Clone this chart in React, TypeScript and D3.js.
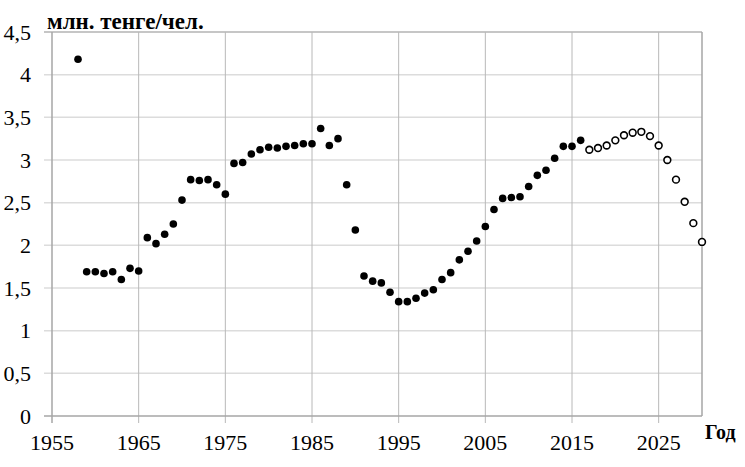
import React from 'react';
import * as d3 from 'd3';

// Фактические значения (закрашенные точки)
const factYears = [
  1958, 1959, 1960, 1961, 1962, 1963, 1964, 1965, 1966, 1967, 1968, 1969,
  1970, 1971, 1972, 1973, 1974, 1975, 1976, 1977, 1978, 1979, 1980, 1981,
  1982, 1983, 1984, 1985, 1986, 1987, 1988, 1989, 1990, 1991, 1992, 1993,
  1994, 1995, 1996, 1997, 1998, 1999, 2000, 2001, 2002, 2003, 2004, 2005,
  2006, 2007, 2008, 2009, 2010, 2011, 2012, 2013, 2014, 2015, 2016
];
const factValues = [
  4.18, 1.69, 1.69, 1.67, 1.69, 1.6, 1.73, 1.7, 2.09, 2.02, 2.13, 2.25,
  2.53, 2.77, 2.76, 2.77, 2.71, 2.6, 2.96, 2.97, 3.07, 3.12, 3.15, 3.14,
  3.16, 3.17, 3.19, 3.19, 3.37, 3.17, 3.25, 2.71, 2.18, 1.64, 1.58, 1.56,
  1.45, 1.34, 1.34, 1.38, 1.44, 1.48, 1.6, 1.68, 1.83, 1.93, 2.05, 2.22,
  2.42, 2.55, 2.56, 2.57, 2.69, 2.82, 2.88, 3.02, 3.16, 3.16, 3.23
];

// Прогноз (пустые кружки)
const forecastYears = [
  2017, 2018, 2019, 2020, 2021, 2022, 2023, 2024, 2025, 2026, 2027, 2028,
  2029, 2030
];
const forecastValues = [
  3.12, 3.14, 3.17, 3.23, 3.29, 3.32, 3.33, 3.28, 3.17, 3.0, 2.77, 2.51,
  2.26, 2.04
];

const xTicks = [1955, 1965, 1975, 1985, 1995, 2005, 2015, 2025];
const yTicks = [0, 0.5, 1, 1.5, 2, 2.5, 3, 3.5, 4, 4.5];

const yTitle = 'млн. тенге/чел.';
const xTitle = 'Год';

const width = 745;
const height = 467;
const left = 52;
const right = 702;
const top = 32;
const bottom = 416;
const font = 'Liberation Serif';

function App() {
  const x = d3.scaleLinear().domain([1955, 2030]).range([left, right]);
  const y = d3.scaleLinear().domain([0, 4.5]).range([bottom, top]);

  const fact = factYears.map((yr, i) => ({ yr, v: factValues[i] }));
  const forecast = forecastYears.map((yr, i) => ({ yr, v: forecastValues[i] }));

  return (
    <svg width={width} height={height} style={{ position: 'absolute', left: 0, top: 0 }}>
      {/* horizontal grid with outer ticks */}
      {yTicks.filter(d => d > 0).map(d => (
        <line key={'h' + d} x1={left - 8} x2={right} y1={y(d)} y2={y(d)}
          stroke={d === 4.5 ? '#b3b3b3' : '#dcdcdc'} strokeWidth={1.5} />
      ))}
      {/* vertical grid */}
      {xTicks.filter(d => d > 1955).map(d => (
        <line key={'v' + d} x1={x(d)} x2={x(d)} y1={top} y2={bottom + 7}
          stroke="#b8b8b8" strokeWidth={1} />
      ))}
      {/* frame */}
      <line x1={left} x2={left} y1={top} y2={bottom + 7} stroke="#a6a6a6" strokeWidth={1.5} />
      <line x1={left - 8} x2={right} y1={bottom} y2={bottom} stroke="#a6a6a6" strokeWidth={1.5} />
      <line x1={right} x2={right} y1={top} y2={bottom} stroke="#a6a6a6" strokeWidth={1.5} />

      {/* y tick labels */}
      {yTicks.map(d => (
        <text key={'yl' + d} x={31} y={y(d)} dy="0.35em" textAnchor="end"
          fontFamily={font} fontSize={22}>
          {String(d).replace('.', ',')}
        </text>
      ))}
      {/* x tick labels */}
      {xTicks.map(d => (
        <text key={'xl' + d} x={x(d)} y={450} textAnchor="middle"
          fontFamily={font} fontSize={22}>
          {d}
        </text>
      ))}

      {/* axis titles */}
      <text x={47} y={29} fontFamily={font} fontSize={23} fontWeight="bold">{yTitle}</text>
      <text x={705} y={439} fontFamily={font} fontSize={20} fontWeight="bold">{xTitle}</text>

      {/* actual */}
      {fact.map(d => (
        <circle key={'f' + d.yr} cx={x(d.yr)} cy={y(d.v)} r={3.8} fill="#000" />
      ))}
      {/* forecast */}
      {forecast.map(d => (
        <circle key={'p' + d.yr} cx={x(d.yr)} cy={y(d.v)} r={3.4}
          fill="#fff" stroke="#000" strokeWidth={1.6} />
      ))}
    </svg>
  );
}

export default App;
